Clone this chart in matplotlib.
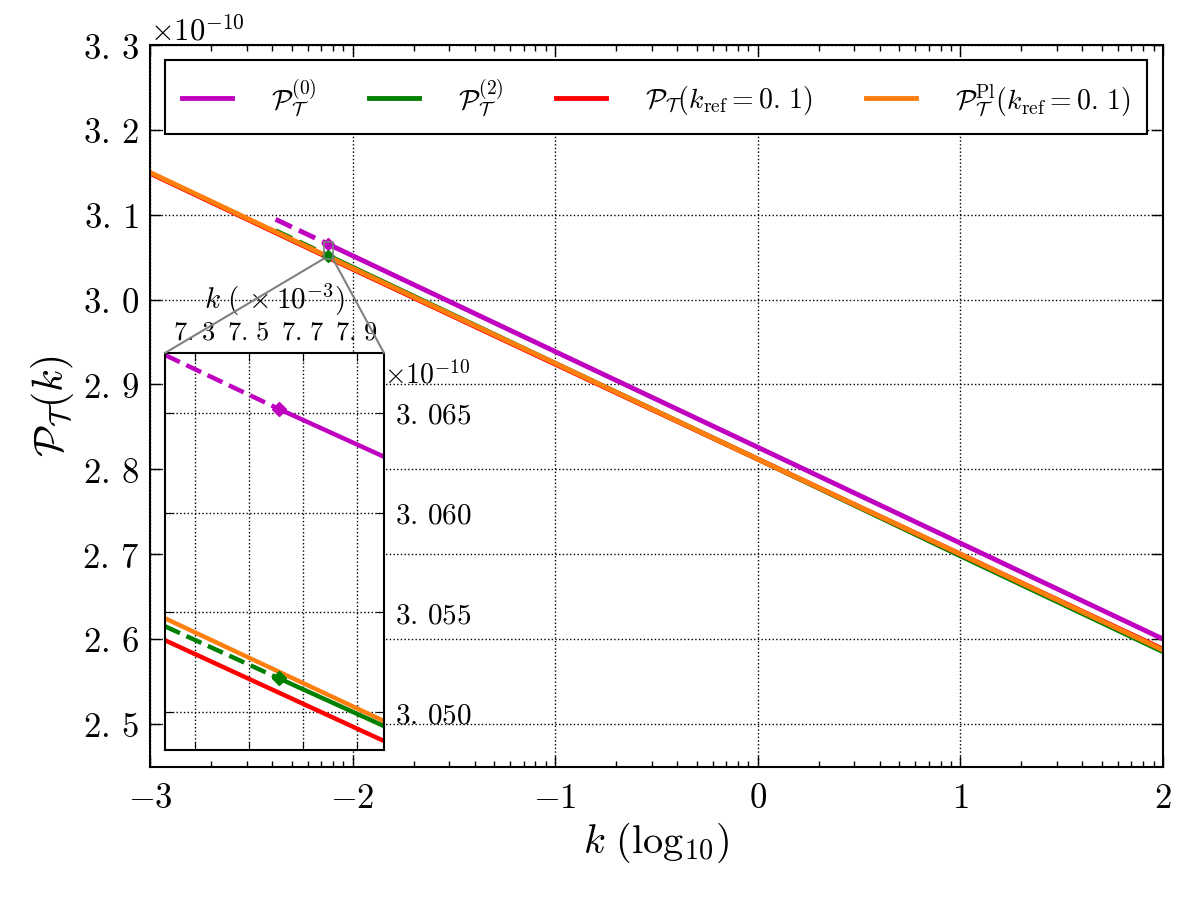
import numpy as np
import matplotlib
matplotlib.use("Agg")
import matplotlib.pyplot as plt
from matplotlib.ticker import (FuncFormatter, FixedLocator, MultipleLocator, LogLocator, NullFormatter)
from matplotlib.patches import Rectangle, ConnectionPatch

plt.rcParams['mathtext.fontset'] = 'cm'
plt.rcParams['font.family'] = ['DejaVu Serif']
plt.rcParams['xtick.direction'] = 'in'
plt.rcParams['ytick.direction'] = 'in'

# ---------------- data (P in units of 1e-10) ----------------
# main panel, x = log10(k)
logk_main = [-3, -2, -1, 0, 1, 2]
P_red = [3.149, 3.036, 2.924, 2.812, 2.700, 2.588]
P_orange = [3.150, 3.037, 2.925, 2.812, 2.700, 2.587]

logk_mag_dash = [-2.38, -2.119]
P_mag_dash = [3.0947, 3.0652]
logk_mag = [-2.119, -2, -1, 0, 1, 2]
P_mag = [3.0652, 3.0518, 2.9388, 2.826, 2.713, 2.600]

logk_grn_dash = [-2.38, -2.119]
P_grn_dash = [3.0813, 3.0517]
logk_grn = [-2.119, -2, -1, 0, 1, 2]
P_grn = [3.0517, 3.0382, 2.925, 2.812, 2.698, 2.585]

# inset, k in units of 1e-3
k_in_dash = [7.19, 7.61]
k_in_solid = [7.61, 8.0]
k_in_full = [7.19, 8.0]
Pin_mag_dash = [3.0679, 3.0652]
Pin_mag = [3.0652, 3.0628]
Pin_grn_dash = [3.0543, 3.0517]
Pin_grn = [3.0517, 3.0493]
Pin_orange = [3.0547, 3.04955]
Pin_red = [3.0536, 3.04855]
k_marker = 7.61
Pin_mag_marker = 3.0652
Pin_grn_marker = 3.0517

inset_xlim = (7.19, 8.0)
inset_ylim = (3.0481, 3.068)
inset_xticks = [7.3, 7.5, 7.7, 7.9]

labels = [r'$\mathcal{P}_\mathcal{T}^{(0)}$', r'$\mathcal{P}_\mathcal{T}^{(2)}$',
          r'$\mathcal{P}_\mathcal{T}(k_{\rm ref}=0.\,1)$',
          r'$\mathcal{P}_\mathcal{T}^{\rm Pl}(k_{\rm ref}=0.\,1)$']
c_mag, c_grn, c_red, c_org = 'm', 'g', 'r', '#ff7f0e'

E = 1e-10
def K(lk):
    return 10.0 ** np.asarray(lk, dtype=float)

def dec(v, d):
    s = '%.*f' % (d, v)
    return '$' + s.replace('.', r'.\,') + '$'

fig = plt.figure(figsize=(12, 9), dpi=100)
ax = fig.add_axes([0.125, 0.1478, 0.844, 0.802])

lw = 3.5
ax.plot(K(logk_mag_dash), np.array(P_mag_dash) * E, '--', color=c_mag, lw=lw)
ax.plot(K(logk_grn_dash), np.array(P_grn_dash) * E, '--', color=c_grn, lw=lw)
ax.plot(K(logk_mag), np.array(P_mag) * E, '-', color=c_mag, lw=lw, label=labels[0])
ax.plot(K(logk_grn), np.array(P_grn) * E, '-', color=c_grn, lw=lw, label=labels[1])
ax.plot(K(logk_main), np.array(P_red) * E, '-', color=c_red, lw=lw, label=labels[2])
ax.plot(K(logk_main), np.array(P_orange) * E, '-', color=c_org, lw=lw, label=labels[3])
ax.plot([K(logk_mag[0])], [P_mag[0] * E], 'D', color=c_mag, ms=6, mec=c_mag)
ax.plot([K(logk_grn[0])], [P_grn[0] * E], 'D', color=c_grn, ms=6, mec=c_grn)

ax.set_xscale('log')
ax.set_xlim(1e-3, 1e2)
ax.set_ylim(2.449e-10, 3.3e-10)
ax.xaxis.set_major_locator(LogLocator(base=10, numticks=10))
ax.xaxis.set_major_formatter(FuncFormatter(lambda v, p: r'$%d$' % int(round(np.log10(v)))))
ax.xaxis.set_minor_formatter(NullFormatter())
ax.yaxis.set_major_locator(MultipleLocator(0.1e-10))
ax.yaxis.set_major_formatter(FuncFormatter(lambda v, p: dec(v / E, 1)))
ax.tick_params(which='both', top=True, right=True, labelsize=25)
ax.tick_params(which='major', length=8, width=1)
ax.tick_params(which='minor', length=4, width=1)
ax.tick_params(axis='x', pad=10)
ax.tick_params(axis='y', pad=8)
ax.grid(True, which='major', linestyle=':', color='k', lw=1)
for s in ax.spines.values():
    s.set_linewidth(1.5)
ax.set_xlabel(r'$k\ (\mathrm{log}_{10})$', fontsize=29, labelpad=4)
ax.set_ylabel(r'$\mathcal{P}_\mathcal{T}(k)$', fontsize=30, labelpad=4)
fig.text(150 / 1200, 1 - 40 / 900, r'$\times10^{-10}$', fontsize=22, ha='left', va='baseline')

leg = ax.legend(loc='upper left', bbox_to_anchor=(0.0148, 0.882, 0.970, 0.0975),
                mode='expand', ncol=4, borderaxespad=0, fontsize=20,
                handlelength=1.8, handletextpad=1.4, fancybox=False,
                edgecolor='k', framealpha=1, borderpad=0.6)
leg.get_frame().set_linewidth(1.5)

# ---------------- inset ----------------
axin = fig.add_axes([165 / 1200, 1 - 750 / 900, 219 / 1200, 397 / 900])
lwi = 3.2
axin.plot(k_in_dash, np.array(Pin_mag_dash) * E, '--', color=c_mag, lw=lwi)
axin.plot(k_in_solid, np.array(Pin_mag) * E, '-', color=c_mag, lw=lwi)
axin.plot(k_in_full, np.array(Pin_red) * E, '-', color=c_red, lw=lwi)
axin.plot(k_in_dash, np.array(Pin_grn_dash) * E, '--', color=c_grn, lw=lwi)
axin.plot(k_in_solid, np.array(Pin_grn) * E, '-', color=c_grn, lw=lwi)
axin.plot(k_in_full, np.array(Pin_orange) * E, '-', color=c_org, lw=lwi)
axin.plot([k_marker], [Pin_mag_marker * E], 'D', color=c_mag, ms=7, mec=c_mag)
axin.plot([k_marker], [Pin_grn_marker * E], 'D', color=c_grn, ms=7, mec=c_grn)
axin.set_xlim(*inset_xlim)
axin.set_ylim(inset_ylim[0] * E, inset_ylim[1] * E)
axin.xaxis.set_major_locator(FixedLocator(inset_xticks))
axin.xaxis.set_major_formatter(FuncFormatter(lambda v, p: dec(v, 1)))
axin.yaxis.set_major_locator(MultipleLocator(0.005e-10))
axin.yaxis.set_major_formatter(FuncFormatter(lambda v, p: dec(v / E, 3)))
axin.tick_params(which='both', top=True, bottom=True, left=True, right=True,
                 labeltop=True, labelbottom=False, labelleft=False, labelright=True,
                 labelsize=21, length=6)
axin.tick_params(axis='x', pad=6, labelsize=19)
axin.tick_params(axis='y', pad=8)
axin.xaxis.set_label_position('top')
axin.set_xlabel(r'$k\ (\,\times10^{-3})$', fontsize=21, labelpad=8)
axin.grid(True, linestyle=':', color='k', lw=1)
for s in axin.spines.values():
    s.set_linewidth(1.5)
axin.text(1.0, 1 - 30 / 397, r'$\times10^{-10}$', transform=axin.transAxes,
          fontsize=20, ha='left', va='baseline')

# zoom box and connectors
x0, x1 = inset_xlim[0] * 1e-3, inset_xlim[1] * 1e-3
y0, y1 = inset_ylim[0] * E, inset_ylim[1] * E
ax.add_patch(Rectangle((x0, y0), x1 - x0, y1 - y0, fill=False, ec='0.5', lw=1.2, zorder=5))
for xa, xb in [((0, 1), x0), ((1, 1), x1)]:
    cp = ConnectionPatch(xyA=xa, coordsA=axin.transAxes, xyB=(xb, y0), coordsB=ax.transData,
                         color='0.5', lw=1.5)
    fig.add_artist(cp)

fig.savefig('out.png', dpi=100, facecolor='white')
